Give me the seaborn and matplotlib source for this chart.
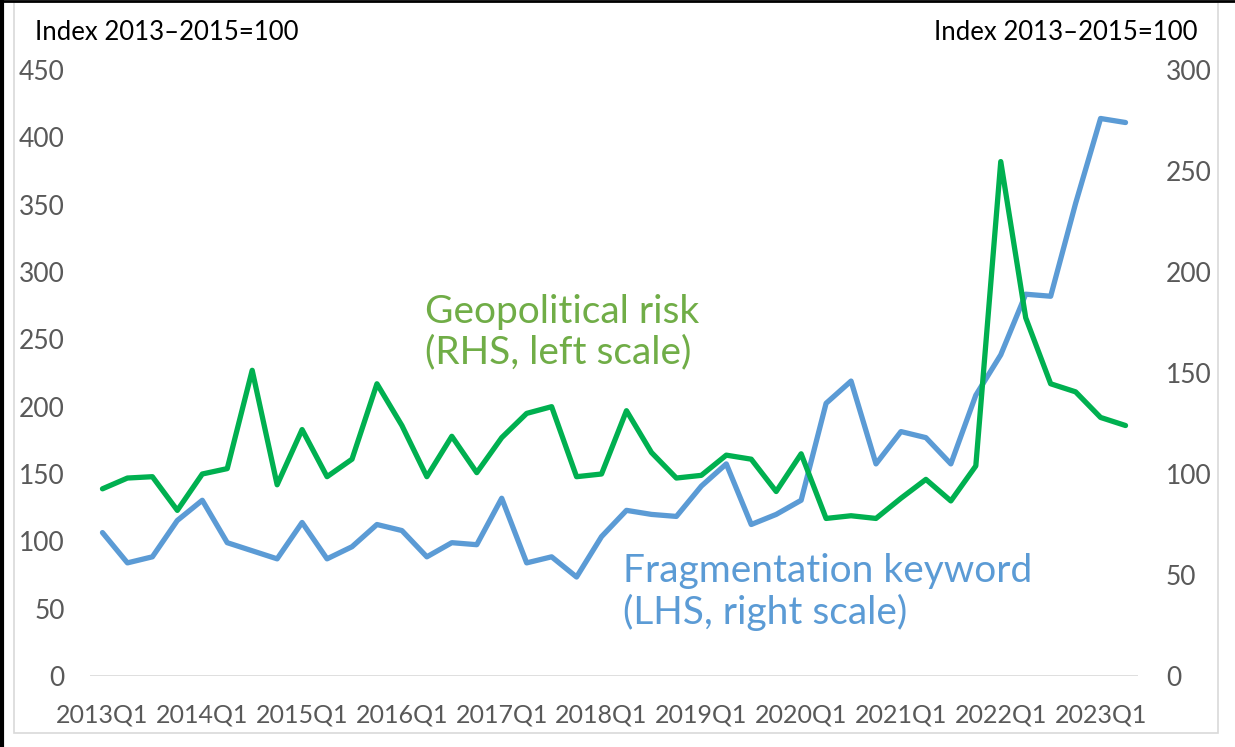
import numpy as np
import pandas as pd
import matplotlib.pyplot as plt
import seaborn as sns
from matplotlib.lines import Line2D
from matplotlib.patches import Rectangle

# quarterly labels 2013Q1 .. 2023Q2
quarters = [f"{y}Q{q}" for y in range(2013, 2024) for q in range(1, 5)][:42]

# Geopolitical risk (left scale)
geo_risk = [139, 147, 148, 123, 150, 154, 227, 142, 183, 148, 161, 217,
            186, 148, 178, 151, 177, 195, 200, 148, 150, 197, 166, 147,
            149, 164, 161, 137, 165, 117, 119, 117, 132, 146, 130, 156,
            382, 266, 217, 211, 192, 186]

# Fragmentation keyword (right scale)
frag_kw = [71, 56, 59, 77, 87, 66, 62, 58, 76, 58, 64, 75,
           72, 59, 66, 65, 88, 56, 59, 49, 69, 82, 80, 79,
           94, 105, 75, 80, 87, 135, 146, 105, 121, 118, 105, 139,
           159, 189, 188, 234, 276, 274]

left_ticks = list(range(0, 451, 50))
right_ticks = list(range(0, 301, 50))

df = pd.DataFrame({"idx": range(len(quarters)), "quarter": quarters,
                   "geo": geo_risk, "frag": frag_kw})

sns.set_theme(style="white")
plt.rcParams['font.family'] = ['Lato', 'DejaVu Sans']

GREEN = "#00B050"
BLUE = "#5B9BD5"
TICK = "#595959"

fig = plt.figure(figsize=(12.35, 7.47), dpi=100)
ax = fig.add_axes([90 / 1235, 71 / 747, 1048 / 1235, 606 / 747])
ax2 = ax.twinx()

sns.lineplot(data=df, x="idx", y="frag", ax=ax2, color=BLUE, linewidth=3.8)
sns.lineplot(data=df, x="idx", y="geo", ax=ax, color=GREEN, linewidth=3.8)
# keep green line drawn above blue
ax.set_zorder(ax2.get_zorder() + 1)
ax.patch.set_visible(False)

ax.set_xlim(-0.5, len(quarters) - 0.5)
ax.set_ylim(0, 450)
ax2.set_ylim(0, 300)
ax.set_yticks(left_ticks)
ax2.set_yticks(right_ticks)
ax.set_xticks(range(0, len(quarters), 4))
ax.set_xticklabels(quarters[::4])
ax.set_xlabel("")
ax.set_ylabel("")
ax2.set_ylabel("")

for a in (ax, ax2):
    for s in a.spines.values():
        s.set_visible(False)
    a.tick_params(length=0, labelsize=19, colors=TICK)
ax.tick_params(axis="y", pad=18)
ax2.tick_params(axis="y", pad=20)
ax.tick_params(axis="x", pad=20, labelsize=18)
ax.axhline(0, color="#D9D9D9", linewidth=1.2)

fig.text(35 / 1235, 1 - 33 / 747, "Index 2013\u20132015=100", fontsize=18.5,
         color="black", va="center", ha="left")
fig.text(1198 / 1235, 1 - 33 / 747, "Index 2013\u20132015=100", fontsize=18.5,
         color="black", va="center", ha="right")

fig.text(425 / 1235, 1 - 332 / 747, "Geopolitical risk\n(RHS, left scale)",
         fontsize=28, color="#70AD47", va="center", ha="left", linespacing=1.15)
fig.text(623 / 1235, 1 - 592 / 747, "Fragmentation keyword\n(LHS, right scale)",
         fontsize=28, color=BLUE, va="center", ha="left", linespacing=1.15)

# frame
fig.add_artist(Rectangle((14 / 1235, 14 / 747), 1204 / 1235, 731 / 747,
                         fill=False, edgecolor="#D9D9D9", linewidth=1.2,
                         transform=fig.transFigure))
fig.add_artist(Line2D([0.002, 0.002], [0, 1], color="black", linewidth=3,
                      transform=fig.transFigure))
fig.add_artist(Line2D([0, 1], [0.998, 0.998], color="black", linewidth=2,
                      transform=fig.transFigure))

fig.savefig("out.png", dpi=100)
